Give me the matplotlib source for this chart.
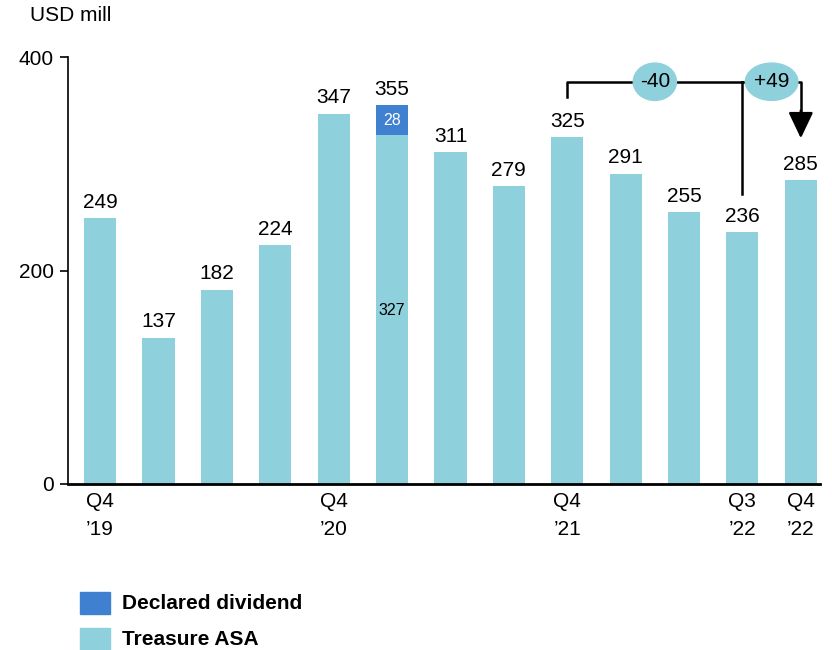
import numpy as np
import matplotlib.pyplot as plt
from matplotlib.patches import Ellipse, Rectangle

plt.rcParams['font.family'] = ['Liberation Sans', 'DejaVu Sans']

# quarterly values, USD mill
totals = [249, 137, 182, 224, 347, 355, 311, 279, 325, 291, 255, 236, 285]
treasure = [249, 137, 182, 224, 347, 327, 311, 279, 325, 291, 255, 236, 285]
dividend = [0, 0, 0, 0, 0, 28, 0, 0, 0, 0, 0, 0, 0]
xlabels = ['Q4\n\u201919', '', '', '', 'Q4\n\u201920', '', '', '', 'Q4\n\u201921',
           '', '', 'Q3\n\u201922', 'Q4\n\u201922']
change_q = -40   # Q4'21 -> Q3'22
change_y = 49    # Q3'22 -> Q4'22
legend_labels = ['Declared dividend', 'Treasure ASA']

c_treas = '#8ED1DC'
c_div = '#3F80D0'

fig = plt.figure(figsize=(8.32, 6.5), dpi=100)
ax = fig.add_axes([0.0817, 0.2554, 0.904, 0.6566])

x = np.arange(len(totals))
bw = 0.55
ax.bar(x, treasure, width=bw, color=c_treas)
ax.bar(x, dividend, width=bw, bottom=treasure, color=c_div)

for i, t in enumerate(totals):
    ax.text(i, t + 6, str(t), ha='center', va='bottom', fontsize=15)

# split labels for the stacked bar
k = 5
ax.text(k, treasure[k] + dividend[k] / 2, str(dividend[k]), ha='center', va='center',
        fontsize=11.5, color='white')
ax.text(k, 163, str(treasure[k]), ha='center', va='center', fontsize=11.5)

ax.set_xlim(-0.55, 12.33)
ax.set_ylim(0, 400)
ax.set_yticks([0, 200, 400])
ax.tick_params(axis='y', labelsize=15, length=6, width=1.2, pad=4)
ax.set_xticks(x)
ax.set_xticklabels(xlabels, fontsize=15, linespacing=1.6)
ax.tick_params(axis='x', length=0, pad=6)
for s in ['top', 'right']:
    ax.spines[s].set_visible(False)
ax.spines['left'].set_linewidth(1.2)
ax.spines['bottom'].set_linewidth(2)

# change brackets
yl = 377
ax.plot([8, 8, 11], [363, yl, yl], color='black', lw=1.8, clip_on=False)
ax.plot([11, 11], [yl, 272], color='black', lw=1.8, clip_on=False)
ax.plot([11, 12, 12], [yl, yl, 345], color='black', lw=1.8, clip_on=False)
ax.annotate('', xy=(12, 324), xytext=(12, 350),
            arrowprops=dict(arrowstyle='-|>,head_length=0.8,head_width=0.38',
                            color='black', lw=1.8,
                            mutation_scale=20, shrinkA=0, shrinkB=0))
for xc, w, txt in [(9.5, 0.74, '%d' % change_q), (11.5, 0.9, '%+d' % change_y)]:
    ax.add_patch(Ellipse((xc, yl), w, 35, color=c_treas, zorder=3, clip_on=False))
    ax.text(xc, yl, txt, ha='center', va='center', fontsize=15, zorder=4)

fig.text(0.036, 0.976, 'USD mill', fontsize=15, va='center')

# legend drawn as swatches plus bold labels
for j, (lab, col) in enumerate(zip(legend_labels, [c_div, c_treas])):
    y0 = 0.0554 - j * 0.0554
    fig.add_artist(Rectangle((0.0962, y0), 0.036, 0.0338, color=col,
                             transform=fig.transFigure))
    fig.text(0.1466, y0 + 0.0169, lab, fontsize=15, fontweight='bold', va='center')

plt.savefig('out.png', dpi=100)
